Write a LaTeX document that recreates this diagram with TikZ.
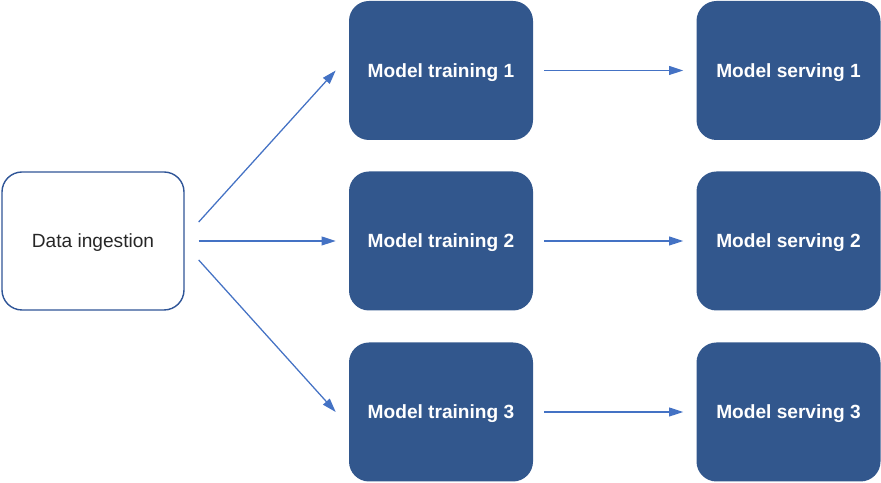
\documentclass[tikz,border=0pt]{standalone}
\usepackage{fontspec}
\setmainfont{Liberation Sans}
\usetikzlibrary{arrows.meta}
\definecolor{boxblue}{RGB}{50,87,141}
\definecolor{linkblue}{RGB}{68,114,196}
\definecolor{edgeblue}{RGB}{47,85,151}

\begin{document}
\begin{tikzpicture}[
    stage/.style={rounded corners=0.5cm, fill=boxblue, minimum width=4.6cm, minimum height=3.475cm, text depth=0pt, text=white, font=\fontsize{13.6}{16}\selectfont\bfseries},
    flow/.style={draw=linkblue, line width=0.9pt, -{Triangle[length=0.35cm,width=0.22cm]}}]
    \useasboundingbox (0,0) rectangle (22.025,12.075);
    \node[draw=edgeblue, line width=1pt, rounded corners=0.5cm, minimum width=4.55cm, minimum height=3.45cm, text depth=0pt, font=\fontsize{13.6}{16}\selectfont, text=black!85] (din) at (2.325,6.05) {Data ingestion};
    \foreach \i/\y in {1/10.3125,2/6.05,3/1.775}{
        \node[stage] (tr\i) at (11.025,\y) {Model training \i};
        \node[stage] (sv\i) at (19.7125,\y) {Model serving \i};
        \draw[flow] ([xshift=0.275cm]tr\i.east) -- ([xshift=-0.325cm]sv\i.west);
    }
    \draw[flow] ([xshift=0.35cm,yshift=0.475cm]din.east) -- ([xshift=-0.325cm]tr1.west);
    \draw[flow] ([xshift=0.35cm]din.east) -- ([xshift=-0.325cm]tr2.west);
    \draw[flow] ([xshift=0.35cm,yshift=-0.475cm]din.east) -- ([xshift=-0.325cm]tr3.west);
\end{tikzpicture}
\end{document}
